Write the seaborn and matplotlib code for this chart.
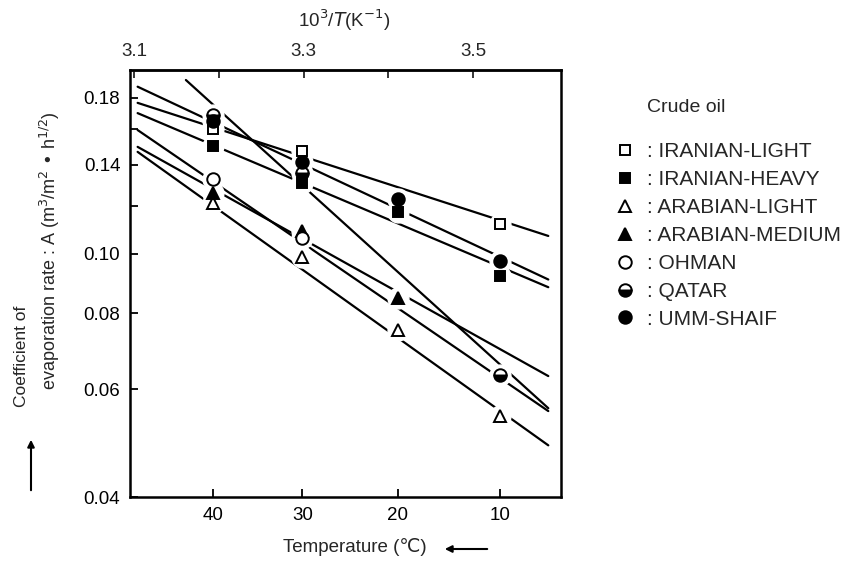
import numpy as np
import pandas as pd
import matplotlib
matplotlib.use("Agg")
import matplotlib.pyplot as plt
import seaborn as sns
from matplotlib.lines import Line2D

# ---------------- data ----------------
oils = ["IRANIAN-LIGHT", "IRANIAN-HEAVY", "ARABIAN-LIGHT", "ARABIAN-MEDIUM",
        "OHMAN", "QATAR", "UMM-SHAIF"]
temps_c = [40, 30, 20, 10]
iranian_light  = [0.160, 0.1475, None, 0.112]
iranian_heavy  = [0.150, 0.1305, 0.117, 0.092]
arabian_light  = [0.121, 0.0987, 0.0751, 0.0543]
arabian_medium = [0.126, 0.109, 0.0848, None]
ohman          = [0.1324, 0.106, None, None]
qatar          = [0.1688, 0.1358, None, 0.0634]
umm_shaif      = [0.165, 0.1416, 0.1228, 0.0973]
series = [iranian_light, iranian_heavy, arabian_light, arabian_medium,
          ohman, qatar, umm_shaif]

# fitted lines (10^3/T and A at both ends)
fit_x_start = [3.104, 3.104, 3.104, 3.104, 3.104, 3.161, 3.104]
fit_a_start = [0.1767, 0.1700, 0.1469, 0.1497, 0.1595, 0.1926, 0.1878]
fit_x_end   = [3.589, 3.589, 3.589, 3.589, 3.589, 3.589, 3.589]
fit_a_end   = [0.107, 0.0882, 0.0486, 0.0631, 0.0553, 0.0559, 0.0908]

top_ticks = [3.1, 3.2, 3.3, 3.4, 3.5]
top_labels = ["3.1", "", "3.3", "", "3.5"]
y_ticks = [0.04, 0.06, 0.08, 0.10, 0.12, 0.14, 0.16, 0.18]
y_labels = ["0.04", "0.06", "0.08", "0.10", "", "0.14", "", "0.18"]

# ---------------- tables ----------------
rows = []
for oil, vals in zip(oils, series):
    for t, v in zip(temps_c, vals):
        if v is not None:
            rows.append({"oil": oil, "temp": t, "inv": 1000.0 / (t + 273.15), "A": v})
pts = pd.DataFrame(rows)

fit_rows = []
for oil, x0, a0, x1, a1 in zip(oils, fit_x_start, fit_a_start, fit_x_end, fit_a_end):
    fit_rows.append({"oil": oil, "inv": x0, "A": a0})
    fit_rows.append({"oil": oil, "inv": x1, "A": a1})
fits = pd.DataFrame(fit_rows)

styles = {
    "IRANIAN-LIGHT":  dict(marker="s", ms=7.5, mfc="white", fillstyle="full"),
    "IRANIAN-HEAVY":  dict(marker="s", ms=7.5, mfc="black", fillstyle="full"),
    "ARABIAN-LIGHT":  dict(marker="^", ms=9, mfc="white", fillstyle="full"),
    "ARABIAN-MEDIUM": dict(marker="^", ms=9, mfc="black", fillstyle="full"),
    "OHMAN":          dict(marker="o", ms=9, mfc="white", fillstyle="full"),
    "QATAR":          dict(marker="o", ms=9, mfc="black", fillstyle="bottom",
                           markerfacecoloralt="white"),
    "UMM-SHAIF":      dict(marker="o", ms=9, mfc="black", fillstyle="full"),
}

# ---------------- figure ----------------
sns.set_theme(style="ticks")
plt.rcParams["font.family"] = ["Liberation Sans", "DejaVu Sans"]
plt.rcParams["mathtext.fontset"] = "dejavusans"

W, H = 849, 565
fig = plt.figure(figsize=(W / 100, H / 100), dpi=100)
L, R, T, B = 130, 561, 70, 497
ax = fig.add_axes([L / W, 1 - B / H, (R - L) / W, (B - T) / H])

sns.lineplot(data=fits, x="inv", y="A", units="oil", estimator=None,
             color="black", lw=1.6, ax=ax, zorder=2, legend=False)

# white halos make the gaps of the fitted lines around the symbols
ax.plot(pts["inv"], pts["A"], "o", ms=15, color="white", mec="white",
        zorder=3, ls="none")
for oil in oils:
    d = pts[pts["oil"] == oil]
    ax.plot(d["inv"], d["A"], ls="none", mec="black", mew=1.4,
            color="black", zorder=4, **styles[oil])

ax.set_yscale("log")
ax.set_ylim(0.04, 0.20)
ax.set_xlim(3.095, 3.604)
ax.set_yticks(y_ticks)
ax.set_yticklabels(y_labels)
ax.yaxis.set_minor_locator(matplotlib.ticker.NullLocator())
bottom_pos = [1000.0 / (t + 273.15) for t in temps_c]
ax.set_xticks(bottom_pos)
ax.set_xticklabels([str(t) for t in temps_c])
ax.set_xlabel("")
ax.set_ylabel("")
ax.tick_params(axis="both", direction="in", length=6, width=1.3,
               labelsize=13.5, colors="black", pad=7)

sec = ax.secondary_xaxis("top")
sec.set_xticks(top_ticks)
sec.set_xticklabels(top_labels)
sec.tick_params(direction="in", length=6, width=1.3, labelsize=13.5, pad=7)
sec.spines["top"].set_linewidth(1.8)

for s in ["left", "right", "top", "bottom"]:
    ax.spines[s].set_visible(True)
    ax.spines[s].set_linewidth(1.8)
    ax.spines[s].set_color("black")

# axis titles
fig.text(344 / W, 1 - 20 / H, r"10$^3$/$T$(K$^{-1}$)", ha="center", va="center",
         fontsize=13.5)
fig.text(355 / W, 1 - 547 / H, "Temperature (℃)", ha="center", va="center",
         fontsize=13.5)
fig.add_artist(matplotlib.patches.FancyArrowPatch(
    (490 / W, 1 - 549 / H), (442 / W, 1 - 549 / H), transform=fig.transFigure,
    arrowstyle="-|>", mutation_scale=10, lw=1.5, color="black"))

fig.text(22 / W, 1 - 407 / H, "Coefficient of", rotation=90, ha="center",
         va="bottom", fontsize=12.5)
fig.text(50 / W, 1 - 390 / H,
         r"evaporation rate : A (m$^3$/m$^2$ • h$^{1/2}$)", rotation=90,
         ha="center", va="bottom", fontsize=13)
fig.add_artist(matplotlib.patches.FancyArrowPatch(
    (31 / W, 1 - 493 / H), (31 / W, 1 - 437 / H), transform=fig.transFigure,
    arrowstyle="-|>", mutation_scale=10, lw=1.5, color="black"))

# legend
fig.text(647 / W, 1 - 107 / H, "Crude oil", ha="left", va="center", fontsize=14)
handles = []
for oil in oils:
    st = dict(styles[oil])
    handles.append(Line2D([], [], ls="none", mec="black", mew=1.4,
                          color="black", **st))
fig.legend(handles, [": " + o for o in oils], loc="upper left",
           bbox_to_anchor=(614.5 / W, 1 - 142 / H), frameon=False,
           handlelength=1.0, handletextpad=0.56, labelspacing=0.43,
           fontsize=15, borderaxespad=0, borderpad=0)

fig.savefig("out.png", dpi=100)
